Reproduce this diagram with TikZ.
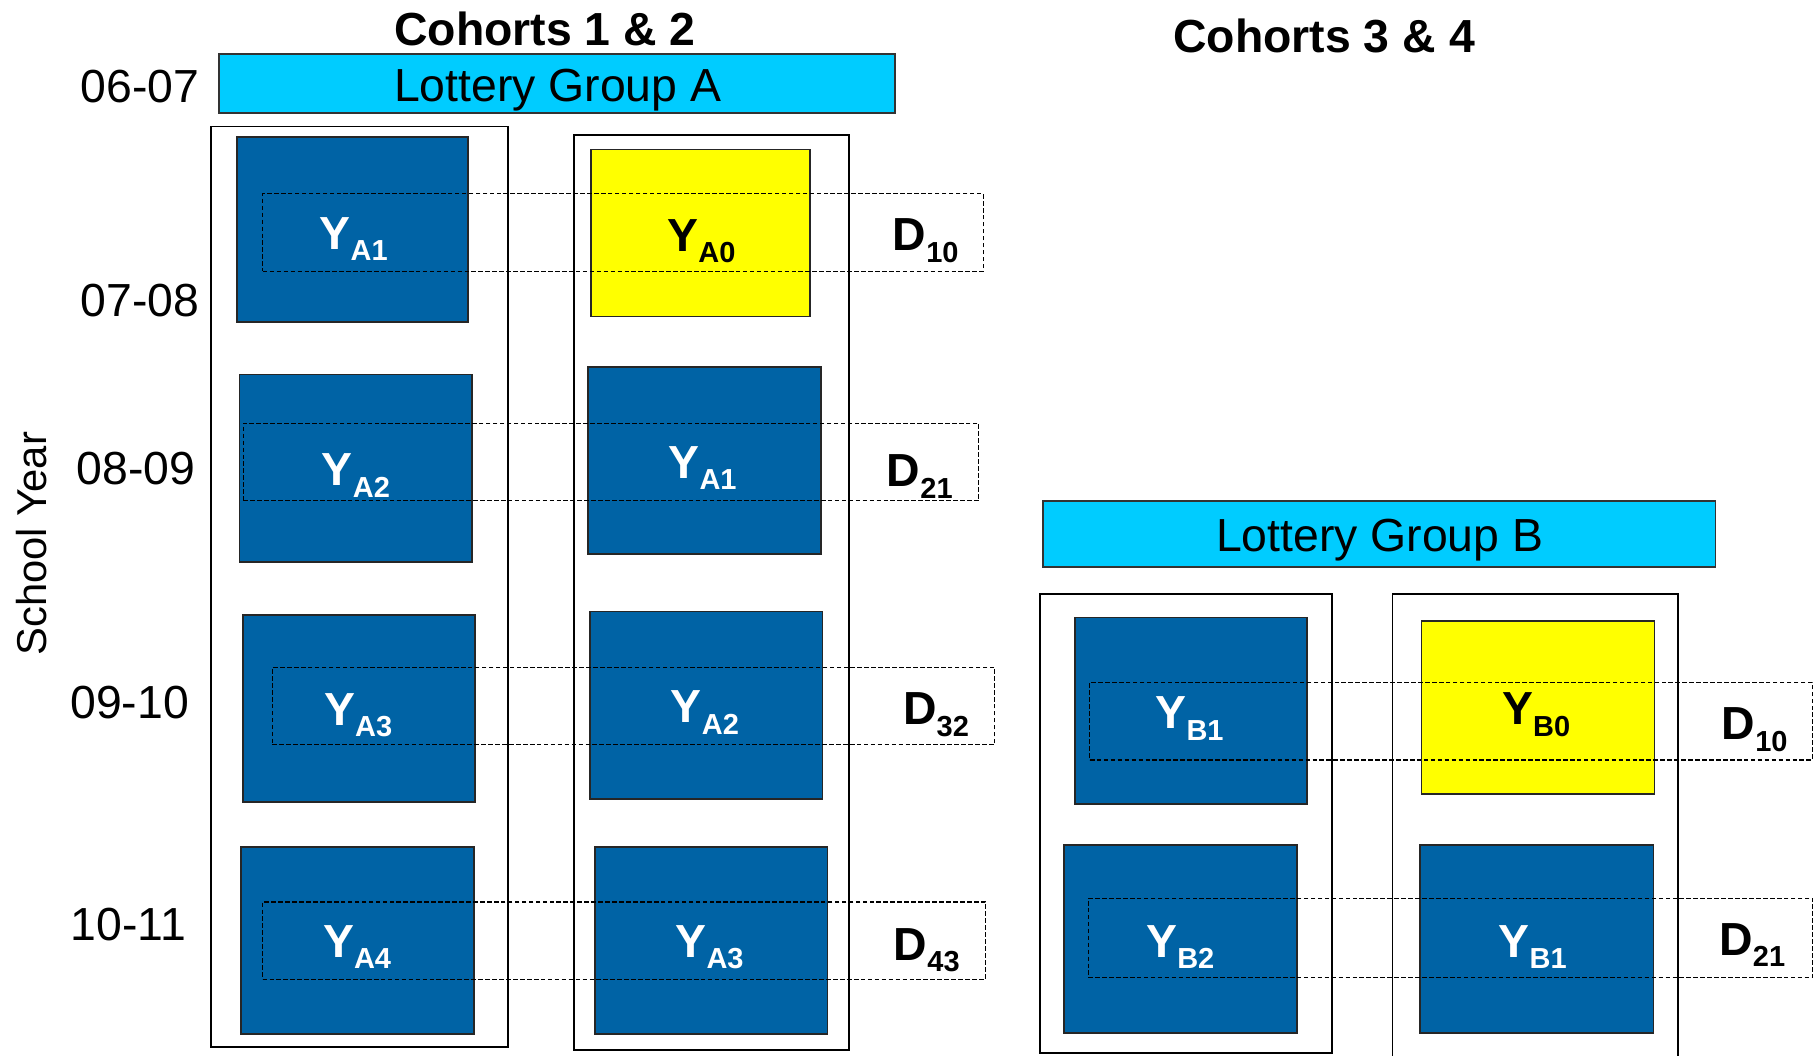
\documentclass[tikz,border=0pt]{standalone}
\usepackage{fontspec}
\setmainfont{Liberation Sans}
\definecolor{boxblue}{RGB}{0,99,165}
\definecolor{barcyan}{RGB}{0,204,255}
\definecolor{boxyellow}{RGB}{255,255,0}
\newcommand\subl[2]{#1\raisebox{-10pt}{\fontsize{25}{25}\selectfont #2}}
\tikzset{
  outerbox/.style={draw=black, line width=1.5pt, inner sep=0pt, outer sep=0pt},
  bluebox/.style={draw=black!85, fill=boxblue, line width=1.5pt, inner sep=0pt, outer sep=0pt},
  yellowbox/.style={draw=black!85, fill=boxyellow, line width=1.5pt, inner sep=0pt, outer sep=0pt},
  barbox/.style={draw=black!80, fill=barcyan, line width=1.5pt, inner sep=0pt, outer sep=0pt},
  diffbox/.style={draw=black, dash pattern=on 4pt off 2pt, line width=1pt, inner sep=0pt, outer sep=0pt},
  plaintext/.style={inner sep=0pt, outer sep=0pt, font=\fontsize{40}{48}\selectfont},
  boldtext/.style={inner sep=0pt, outer sep=0pt, font=\fontsize{40}{48}\selectfont\bfseries},
  ylabW/.style={boldtext, text=white, anchor=base},
  ylabK/.style={boldtext, text=black, anchor=base},
  dlab/.style={boldtext, text=black, anchor=base west},
  yearlab/.style={plaintext, anchor=base east},
}
\begin{document}
\begin{tikzpicture}[x=1pt,y=-1pt]
\useasboundingbox (0,0) rectangle (1568,910);
\clip (0,0) rectangle (1568,910);
% titles
\node[boldtext, anchor=base] (t12) at (470,39) {Cohorts 1 \& 2};
\node[boldtext, anchor=base] (t34) at (1142,45) {Cohorts 3 \& 4};
% year labels
\node[yearlab] (y0607) at (172,88) {06-07};
\node[yearlab] (y0708) at (172,273) {07-08};
\node[yearlab] (y0809) at (168.5,418) {08-09};
\node[yearlab] (y0910) at (163,619.5) {09-10};
\node[yearlab] (y1011) at (160.5,811.5) {10-11};
\node[inner sep=0pt, outer sep=0pt, font=\fontsize{36}{40}\selectfont, rotate=90] (sy) at (27.5,469) {School Year};
% lottery bars
\node[barbox, minimum width=583pt, minimum height=51pt] (barA) at (480.5,72.2) {};
\node[plaintext, anchor=base] (barAt) at (481,87.7) {Lottery Group A};
\node[barbox, minimum width=580pt, minimum height=57pt] (barB) at (1189.5,460.5) {};
\node[plaintext, anchor=base] (barBt) at (1190,476) {Lottery Group B};
% outer boxes
\node[outerbox, minimum width=256pt, minimum height=794pt] (oA1) at (310,506) {};
\node[outerbox, minimum width=237pt, minimum height=789pt] (oA2) at (613.5,511) {};
\node[outerbox, minimum width=252pt, minimum height=396pt] (oB1) at (1023,710) {};
\node[outerbox, minimum width=246pt, minimum height=410pt] (oB2) at (1324,717) {};
% group A boxes
\node[bluebox, minimum width=199pt, minimum height=160pt] (ya1l) at (304,198) {};
\node[yellowbox, minimum width=188.6pt, minimum height=144pt] (ya0) at (604.3,201) {};
\node[bluebox, minimum width=200.7pt, minimum height=162pt] (ya2l) at (307,404) {};
\node[bluebox, minimum width=201pt, minimum height=161.4pt] (ya1r) at (607.5,397.3) {};
\node[bluebox, minimum width=200pt, minimum height=161.4pt] (ya3l) at (309.6,611.3) {};
\node[bluebox, minimum width=200.7pt, minimum height=161.5pt] (ya2r) at (609,608.2) {};
\node[bluebox, minimum width=200.6pt, minimum height=161pt] (ya4l) at (308.3,811) {};
\node[bluebox, minimum width=200.7pt, minimum height=161pt] (ya3r) at (613.3,811) {};
% group B boxes
\node[bluebox, minimum width=200pt, minimum height=161pt] (yb1l) at (1027,613) {};
\node[yellowbox, minimum width=201pt, minimum height=149pt] (yb0) at (1326.5,610) {};
\node[bluebox, minimum width=200.5pt, minimum height=162pt] (yb2l) at (1018.2,810) {};
\node[bluebox, minimum width=201pt, minimum height=162pt] (yb1r) at (1325.5,810) {};
% dashed difference boxes
\node[diffbox, minimum width=621.3pt, minimum height=67pt] (dA10) at (537.3,200.5) {};
\node[diffbox, minimum width=634pt, minimum height=67pt] (dA21) at (527,398.5) {};
\node[diffbox, minimum width=623pt, minimum height=66.5pt] (dA32) at (546.5,608.8) {};
\node[diffbox, minimum width=623.5pt, minimum height=66.5pt] (dA43) at (538.2,811.2) {};
\node[diffbox, minimum width=623pt, minimum height=67pt] (dB10) at (1251.5,622) {};
\node[diffbox, minimum width=625pt, minimum height=68pt] (dB21) at (1251,809) {};
% Y labels
\node[ylabW] (lya1l) at (305,215) {\subl{Y}{A1}};
\node[ylabK] (lya0) at (605,216.5) {\subl{Y}{A0}};
\node[ylabW] (lya2l) at (307,419) {\subl{Y}{A2}};
\node[ylabW] (lya1r) at (606,412.5) {\subl{Y}{A1}};
\node[ylabW] (lya3l) at (309,625.5) {\subl{Y}{A3}};
\node[ylabW] (lya2r) at (608,623.5) {\subl{Y}{A2}};
\node[ylabW] (lya4l) at (308,825.5) {\subl{Y}{A4}};
\node[ylabW] (lya3r) at (612,825.5) {\subl{Y}{A3}};
\node[ylabW] (lyb1l) at (1026,628.5) {\subl{Y}{B1}};
\node[ylabK] (lyb0) at (1325,625) {\subl{Y}{B0}};
\node[ylabW] (lyb2l) at (1018,825.5) {\subl{Y}{B2}};
\node[ylabW] (lyb1r) at (1322,825.5) {\subl{Y}{B1}};
% D labels
\node[dlab] (ldA10) at (770,216) {\subl{D}{10}};
\node[dlab] (ldA21) at (765,420) {\subl{D}{21}};
\node[dlab] (ldA32) at (779,625) {\subl{D}{32}};
\node[dlab] (ldA43) at (771,828) {\subl{D}{43}};
\node[dlab] (ldB10) at (1485,638) {\subl{D}{10}};
\node[dlab] (ldB21) at (1483,824) {\subl{D}{21}};
\end{tikzpicture}
\end{document}
